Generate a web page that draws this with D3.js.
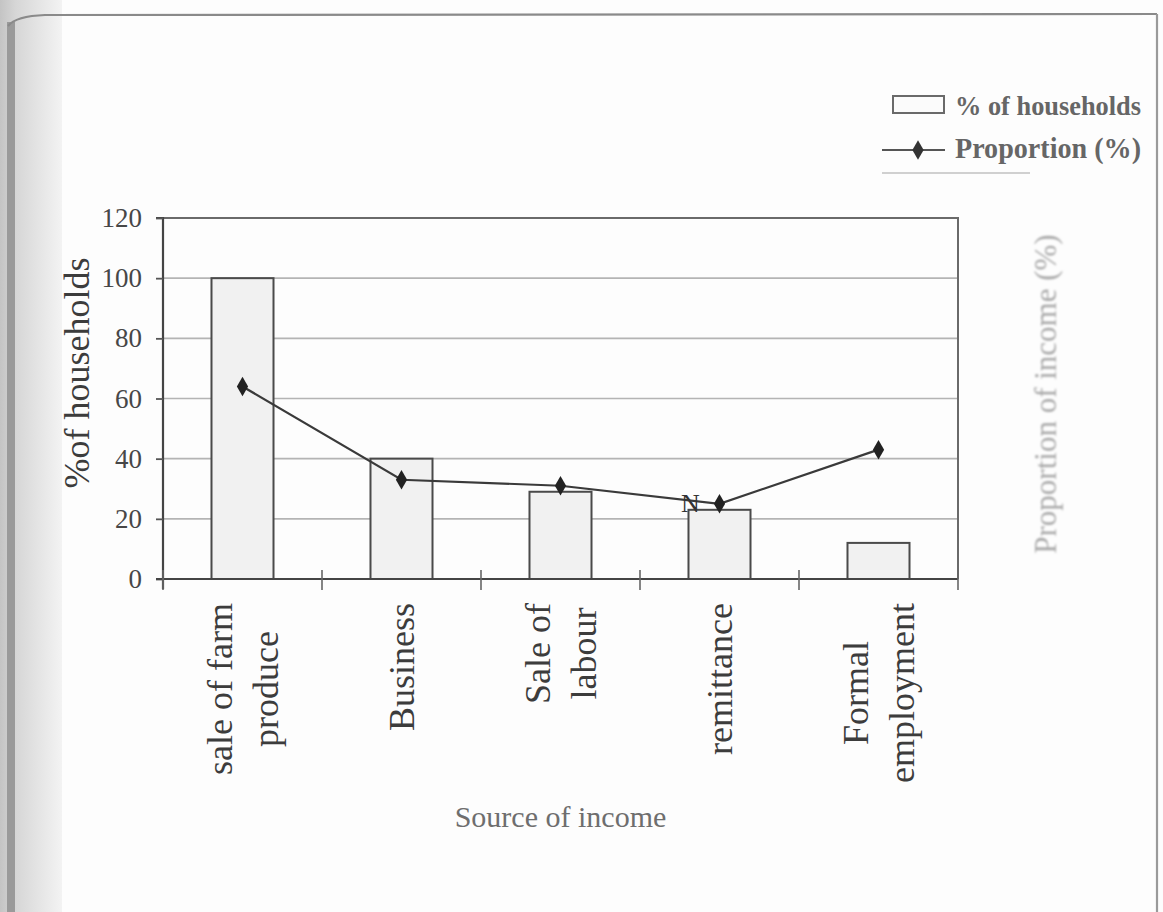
<!DOCTYPE html>
<html>
<head>
<meta charset="utf-8">
<script src="https://cdn.jsdelivr.net/npm/d3@7"></script>
<style>
  body { margin: 0; background: #ffffff; }
  svg { display: block; }
  text { font-family: "Liberation Serif", "Times New Roman", serif; }
</style>
</head>
<body>
<svg id="chart" width="1163" height="912"></svg>
<script>
// Income sources (multi-line axis labels)
const categories = ["sale of farm|produce", "Business", "Sale of|labour", "remittance", "Formal|employment"];
// % of households reporting each source (bars)
const householdsPct = [100, 40, 29, 23, 12];
// Proportion of income from each source (line)
const incomeProportion = [64, 33, 31, 25, 43];
// Value axis ticks
const yTicks = [0, 20, 40, 60, 80, 100, 120];

const svg = d3.select("#chart");
const W = 1163, H = 912;
const plot = { left: 163, right: 958, top: 218, bottom: 579 };

// ---- page background: scanned-page edge on the left, frame lines ----
const defs = svg.append("defs");
const grad = defs.append("linearGradient").attr("id", "edge").attr("x1", 0).attr("x2", 1).attr("y1", 0).attr("y2", 0);
grad.append("stop").attr("offset", "0%").attr("stop-color", "#c4c4c4");
grad.append("stop").attr("offset", "25%").attr("stop-color", "#d6d6d6");
grad.append("stop").attr("offset", "100%").attr("stop-color", "#f3f3f3");
const blur = defs.append("filter").attr("id", "soft").attr("x", "-20%").attr("y", "-5%").attr("width", "140%").attr("height", "110%");
blur.append("feGaussianBlur").attr("stdDeviation", 1.1);

svg.append("rect").attr("width", W).attr("height", H).attr("fill", "#fdfdfd");
svg.append("rect").attr("x", 0).attr("y", 0).attr("width", 62).attr("height", H).attr("fill", "url(#edge)");
svg.append("rect").attr("x", 7).attr("y", 22).attr("width", 8).attr("height", H - 22).attr("fill", "#9a9a9a");
svg.append("path")
  .attr("d", "M8,26 Q16,16 45,15 L1157,14")
  .attr("fill", "none").attr("stroke", "#8a8a8a").attr("stroke-width", 2.2);
svg.append("line").attr("x1", 1157).attr("x2", 1157).attr("y1", 14).attr("y2", H)
  .attr("stroke", "#9a9a9a").attr("stroke-width", 2.2);

// ---- scales ----
const gap = 0.61;
const x = d3.scaleBand().domain(categories)
  .range([plot.left, plot.right])
  .paddingInner(gap).paddingOuter(gap / 2);
const step = x.step();
const y = d3.scaleLinear().domain([0, 120]).range([plot.bottom, plot.top]);
const cx = c => x(c) + x.bandwidth() / 2;

// ---- gridlines ----
svg.append("g").selectAll("line").data(yTicks.filter(t => t > 0 && t < 120)).join("line")
  .attr("x1", plot.left).attr("x2", plot.right)
  .attr("y1", d => y(d)).attr("y2", d => y(d))
  .attr("stroke", "#b4b4b4").attr("stroke-width", 1.6);

// plot border (top / right)
svg.append("path")
  .attr("d", `M${plot.left},${plot.top}H${plot.right}V${plot.bottom}`)
  .attr("fill", "none").attr("stroke", "#6a6a6a").attr("stroke-width", 2);

// ---- bars ----
svg.append("g").selectAll("rect").data(categories).join("rect")
  .attr("x", d => x(d))
  .attr("y", (d, i) => y(householdsPct[i]))
  .attr("width", x.bandwidth())
  .attr("height", (d, i) => y(0) - y(householdsPct[i]))
  .attr("fill", "#f1f1f1")
  .attr("stroke", "#4a4a4a").attr("stroke-width", 2);

// ---- y axis ----
const yAxis = d3.axisLeft(y).tickValues(yTicks).tickSize(7).tickPadding(14);
const gy = svg.append("g").attr("transform", `translate(${plot.left},0)`).call(yAxis);
gy.select(".domain").attr("stroke", "#444").attr("stroke-width", 2.2)
  .attr("d", `M-7,${plot.top}H0V${plot.bottom + 10}`);
gy.selectAll(".tick line").attr("stroke", "#555").attr("stroke-width", 1.8);
gy.selectAll(".tick text")
  .attr("font-size", 27).attr("fill", "#474747")
  .attr("font-family", "'Liberation Serif', serif");

// ---- x axis (ticks at category boundaries) ----
const boundaries = categories.map(c => x(c) - step * gap / 2).concat([plot.right]);
svg.append("line").attr("x1", plot.left - 7).attr("x2", plot.right)
  .attr("y1", plot.bottom).attr("y2", plot.bottom)
  .attr("stroke", "#444").attr("stroke-width", 2.2);
svg.append("g").selectAll("line").data(boundaries).join("line")
  .attr("x1", d => d).attr("x2", d => d)
  .attr("y1", plot.bottom - 9).attr("y2", plot.bottom + 11)
  .attr("stroke", "#666").attr("stroke-width", 1.6);

// category labels, rotated, lines stacked across the band
const fsCat = 36, lineH = 46, labelTop = 603;
const catG = svg.append("g");
categories.forEach(c => {
  const lines = c.split("|");
  const n = lines.length;
  // measure longest line to centre the block vertically below the axis
  const tmp = catG.append("text").attr("font-size", fsCat);
  let maxLen = 0;
  lines.forEach(l => { tmp.text(l); maxLen = Math.max(maxLen, tmp.node().getComputedTextLength()); });
  tmp.remove();
  const midY = labelTop + maxLen / 2;
  lines.forEach((l, k) => {
    const bx = cx(c) + (k - (n - 1) / 2) * lineH + fsCat * 0.36;
    catG.append("text")
      .attr("transform", `translate(${bx},${midY}) rotate(-90)`)
      .attr("text-anchor", "middle")
      .attr("font-size", fsCat).attr("fill", "#3c3c3c")
      .text(l);
  });
});

// ---- proportion line ----
const pts = categories.map((c, i) => [cx(c), y(incomeProportion[i])]);
svg.append("path").attr("d", d3.line()(pts))
  .attr("fill", "none").attr("stroke", "#3a3a3a").attr("stroke-width", 2.2);
const diamond = d3.symbol().type(d3.symbolDiamond).size(110);
svg.append("g").selectAll("path").data(pts).join("path")
  .attr("transform", d => `translate(${d[0]},${d[1]})`)
  .attr("d", diamond).attr("fill", "#222");

// stray mark beside the remittance point
svg.append("text").attr("x", cx(categories[3]) - 29).attr("y", y(incomeProportion[3]) + 8)
  .attr("text-anchor", "middle").attr("font-size", 26).attr("fill", "#333").text("N");

// ---- axis titles ----
svg.append("text")
  .attr("transform", `translate(89,373) rotate(-90)`)
  .attr("text-anchor", "middle").attr("font-size", 36).attr("fill", "#3c3c3c")
  .text("%of households");

svg.append("text")
  .attr("x", (plot.left + plot.right) / 2).attr("y", 827)
  .attr("text-anchor", "middle").attr("font-size", 30).attr("fill", "#6e6e6e")
  .text("Source of income");

svg.append("text")
  .attr("transform", `translate(1056,394) rotate(-90)`)
  .attr("text-anchor", "middle").attr("font-size", 31).attr("fill", "#a8a8a8")
  .attr("filter", "url(#soft)")
  .text("Proportion of income (%)");

// ---- legend ----
const lg = svg.append("g");
lg.append("rect").attr("x", 893).attr("y", 96).attr("width", 51).attr("height", 17)
  .attr("fill", "#fbfbfb").attr("stroke", "#6a6a6a").attr("stroke-width", 2);
lg.append("text").attr("x", 955).attr("y", 115).attr("font-size", 28).attr("fill", "#666")
  .attr("font-weight", "bold")
  .attr("textLength", 186).attr("lengthAdjust", "spacingAndGlyphs")
  .text("% of households");
lg.append("line").attr("x1", 882).attr("x2", 945).attr("y1", 150).attr("y2", 150)
  .attr("stroke", "#555").attr("stroke-width", 2);
lg.append("path").attr("transform", "translate(918,150)").attr("d", diamond).attr("fill", "#333");
lg.append("text").attr("x", 955).attr("y", 158).attr("font-size", 29).attr("fill", "#666")
  .attr("font-weight", "bold")
  .attr("textLength", 186).attr("lengthAdjust", "spacingAndGlyphs")
  .text("Proportion (%)");
lg.append("line").attr("x1", 882).attr("x2", 1030).attr("y1", 173).attr("y2", 173)
  .attr("stroke", "#d0d0d0").attr("stroke-width", 2);
</script>
</body>
</html>
